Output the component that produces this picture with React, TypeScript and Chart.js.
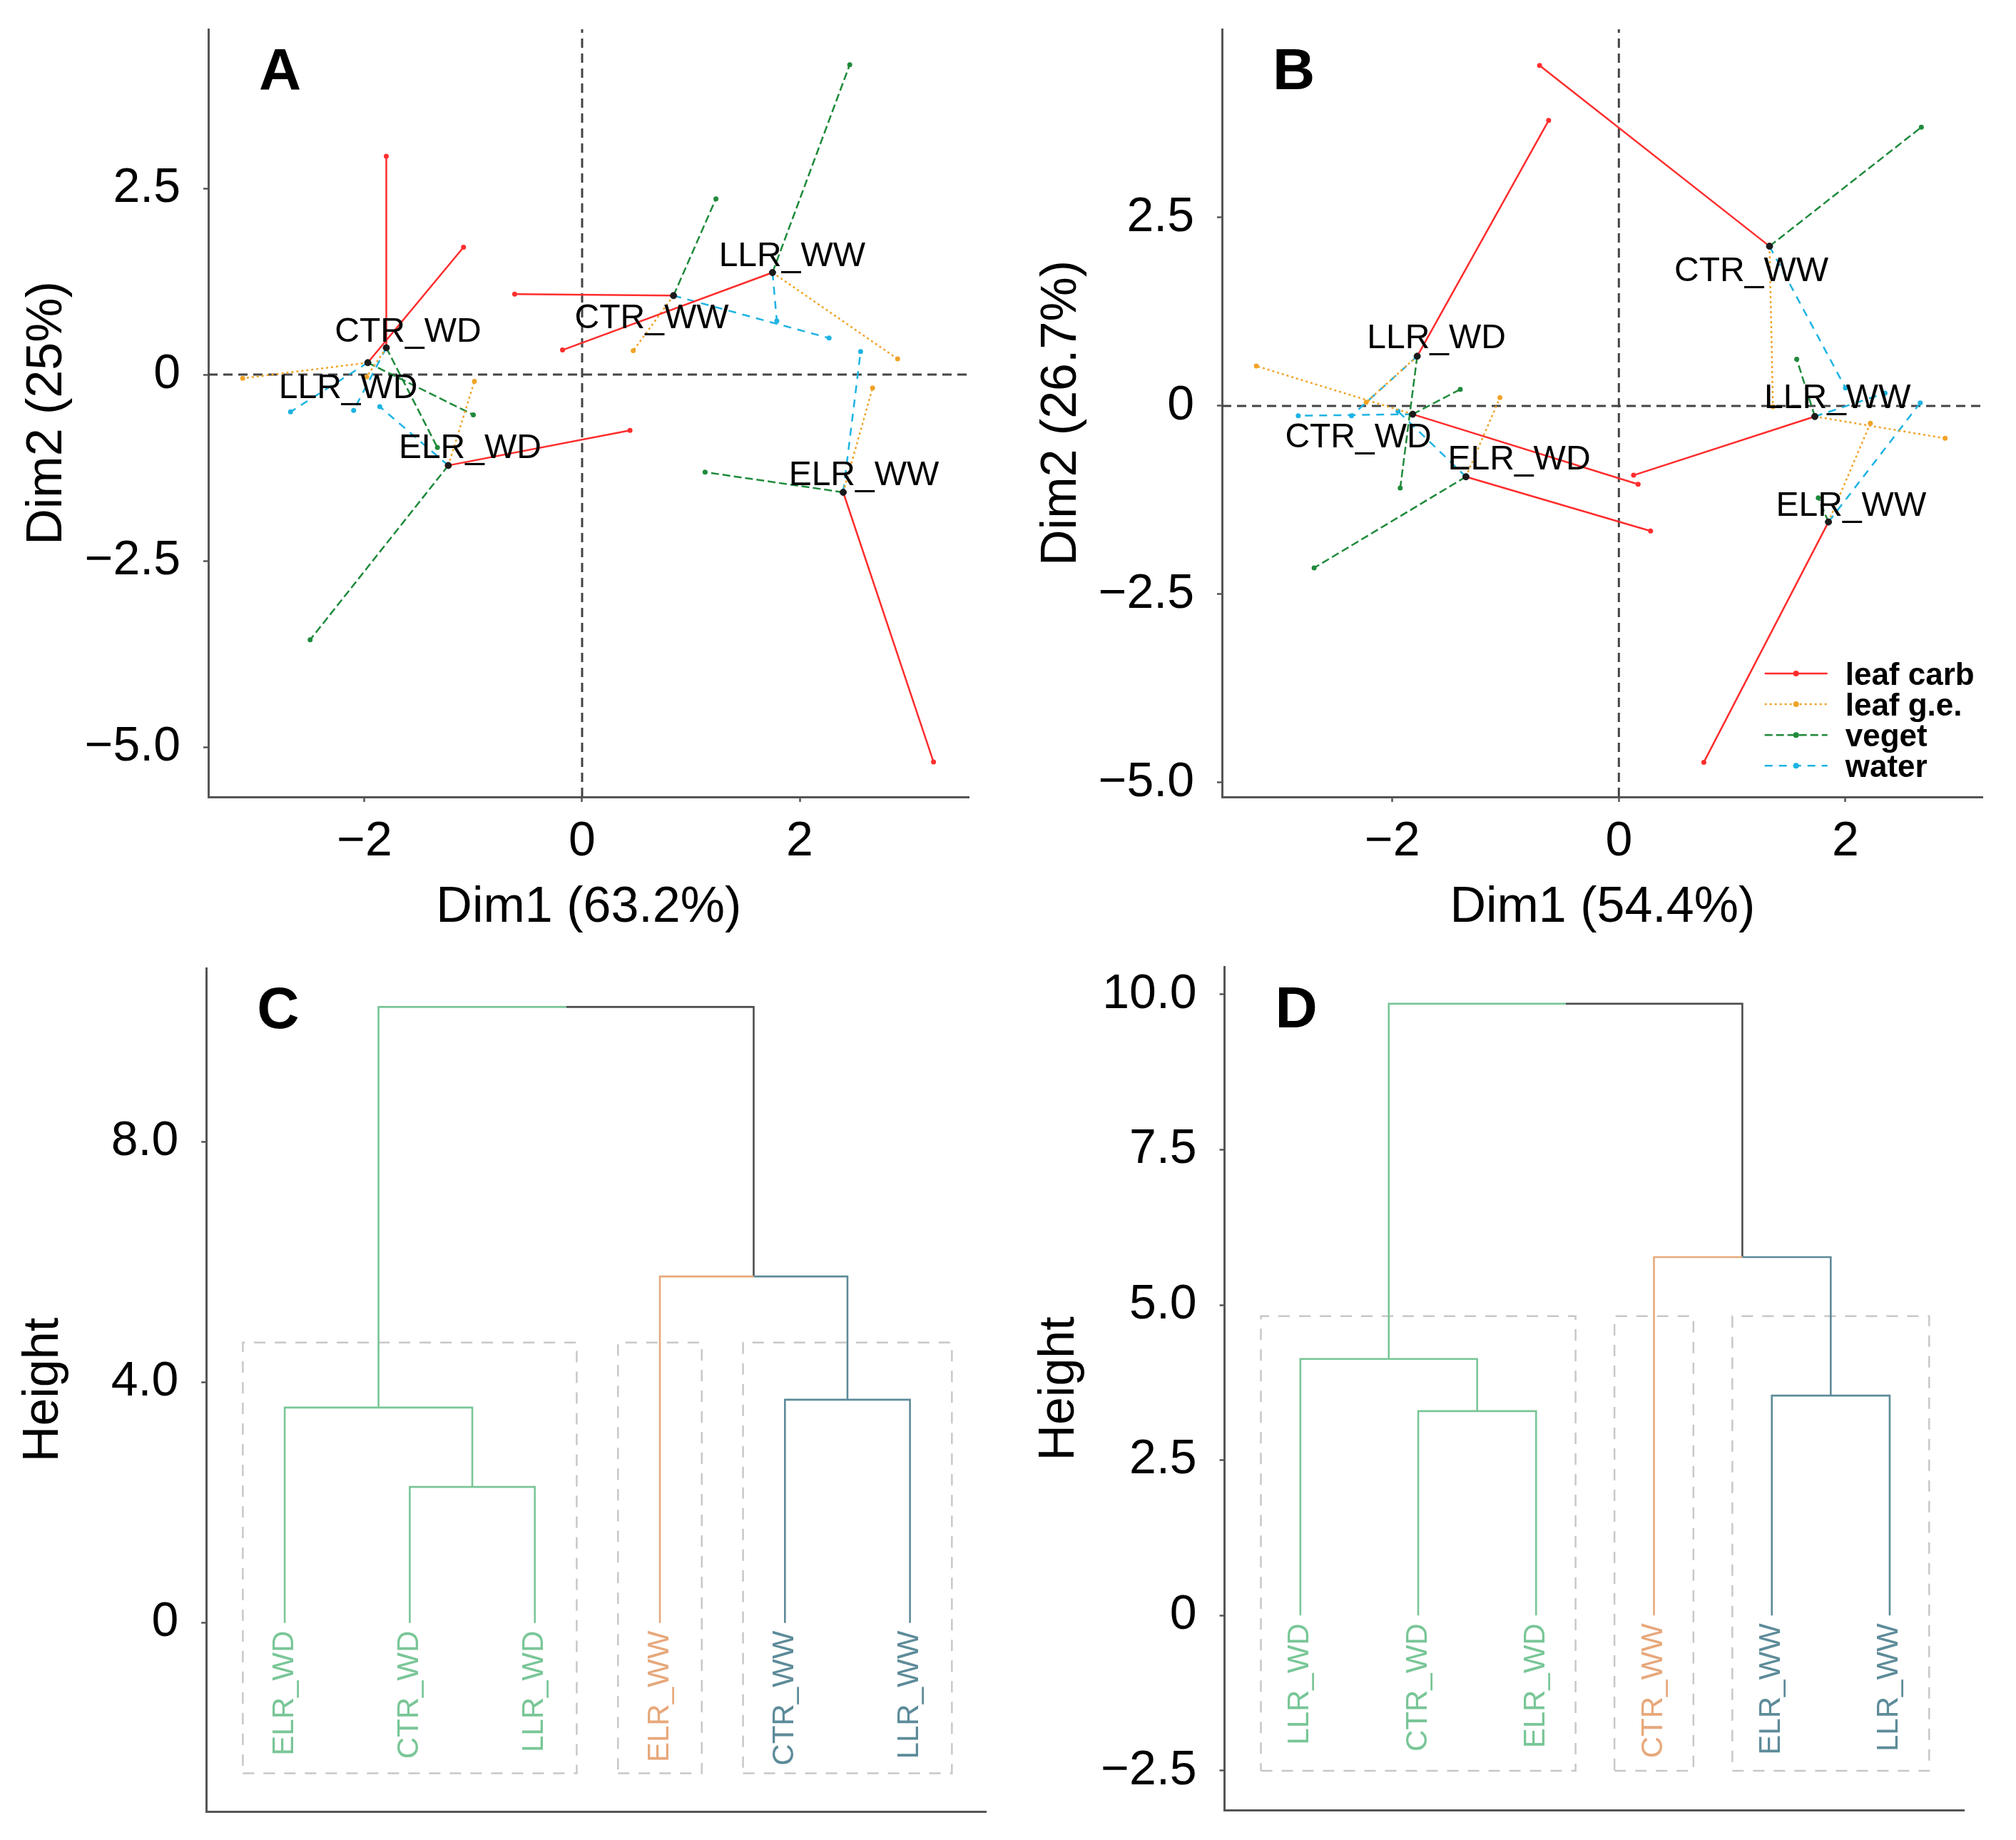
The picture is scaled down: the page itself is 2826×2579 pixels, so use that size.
import React, { useEffect, useRef } from "react";
import { Chart, registerables } from "chart.js";

Chart.register(...registerables);

const FONT = "'Liberation Sans', Arial, Helvetica, sans-serif";

// ---------------- Panels A & B : MFA individuals with partial points ----------------
const groupLabels = ["CTR_WD", "LLR_WD", "ELR_WD", "CTR_WW", "LLR_WW", "ELR_WW"];
const partialGroups = ["leaf carb", "leaf g.e.", "veget", "water"];

// Panel A
const centerAX = [-1.80, -1.97, -1.23, 0.84, 1.75, 2.40];
const centerAY = [0.36, 0.16, -1.22, 1.06, 1.37, -1.58];
const carbAX = [-1.80, -1.09, 0.44, -0.62, -0.18, 3.23];
const carbAY = [2.93, 1.71, -0.75, 1.08, 0.33, -5.20];
const geAX = [-1.98, -3.12, -0.99, 0.47, 2.90, 2.67];
const geAY = [-0.03, -0.05, -0.09, 0.32, 0.21, -0.18];
const vegAX = [-1.33, -1.00, -2.50, 1.23, 2.46, 1.13];
const vegAY = [-0.98, -0.54, -3.56, 2.36, 4.16, -1.31];
const watAX = [-2.10, -2.68, -1.86, 2.27, 1.79, 2.56];
const watAY = [-0.48, -0.50, -0.43, 0.49, 0.72, 0.31];
const labelAX = [-1.60, -2.15, -1.03, 0.64, 1.93, 2.59];
const labelAY = [0.60, -0.15, -0.96, 0.79, 1.62, -1.32];

// Panel B
const centerBX = [-1.82, -1.78, -1.35, 1.33, 1.73, 1.85];
const centerBY = [-0.11, 0.66, -0.94, 2.12, -0.14, -1.54];
const carbBX = [0.17, -0.62, 0.28, -0.70, 0.13, 0.75];
const carbBY = [-1.04, 3.79, -1.66, 4.52, -0.92, -4.73];
const geBX = [-3.20, -2.23, -1.05, 1.36, 2.88, 2.22];
const geBY = [0.53, 0.05, 0.11, -0.01, -0.43, -0.23];
const vegBX = [-1.40, -1.93, -2.69, 2.67, 1.57, 1.76];
const vegBY = [0.22, -1.09, -2.15, 3.70, 0.62, -1.22];
const watBX = [-2.83, -2.36, -1.95, 2.00, 2.35, 2.66];
const watBY = [-0.13, -0.13, -0.07, 0.24, 0.17, 0.04];
const labelBX = [-2.30, -1.61, -0.88, 1.17, 1.93, 2.05];
const labelBY = [-0.39, 0.93, -0.68, 1.82, 0.13, -1.30];

const biplotXTicks = [-2, 0, 2];
const biplotYTicks = [-5, -2.5, 0, 2.5];

// ---------------- Panels C & D : dendrograms ----------------
const dendCLabels = ["ELR_WD", "CTR_WD", "LLR_WD", "ELR_WW", "CTR_WW", "LLR_WW"];
const dendCClusters = [0, 0, 0, 1, 2, 2];
const dendCMerge = [[-2, -3], [-1, 1], [-5, -6], [-4, 3], [2, 4]];
const dendCHeights = [2.26, 3.58, 3.71, 5.76, 10.24];
const dendCRectTop = 4.66;
const dendCYTicks = [0, 4, 8];

const dendDLabels = ["LLR_WD", "CTR_WD", "ELR_WD", "CTR_WW", "ELR_WW", "LLR_WW"];
const dendDClusters = [0, 0, 0, 1, 2, 2];
const dendDMerge = [[-2, -3], [-1, 1], [-5, -6], [-4, 3], [2, 4]];
const dendDHeights = [3.29, 4.13, 3.54, 5.77, 9.85];
const dendDRectTop = 4.82;
const dendDYTicks = [-2.5, 0, 2.5, 5, 7.5, 10];

const dendRectBottom = -2.5;

// ---------------- styles ----------------
const partialColors = ["#FF2D2D", "#F0A429", "#1F8A3B", "#1DB3E3"];
const partialDash: number[][] = [[], [3, 4], [11, 5], [11, 9]];
const clusterColors = ["#79C697", "#E7A87B", "#5D8B99"];
const mixedColor = "#4D4D4D";
const AXIS_COLOR = "#555555";

type Layout = {
  left: number; top: number; width: number; height: number;
  padTop: number; padRight: number; yWidth: number; xHeight: number;
};

function fmt(v: number, dec: number) {
  if (Math.abs(v) < 1e-9) return "0";
  const s = Math.abs(v).toFixed(dec);
  return v < 0 ? "\u2212" + s : s;
}

function zeroPad(s: any) {
  s.paddingTop = 0;
  s.paddingBottom = 0;
  s.paddingLeft = 0;
  s.paddingRight = 0;
}

function xAxis(L: Layout, min: number, max: number, ticks: number[] | null, title: string | null, titlePad: number) {
  const show = !!ticks;
  return {
    type: "linear",
    position: "bottom",
    min, max,
    afterFit: (s: any) => { s.height = L.xHeight; zeroPad(s); },
    afterBuildTicks: (s: any) => { s.ticks = (ticks || []).map((v) => ({ value: v })); },
    ticks: {
      display: show,
      callback: (v: any) => fmt(Number(v), 0),
      font: { family: FONT, size: 68 },
      color: "#000",
      padding: 15,
      maxRotation: 0, minRotation: 0, autoSkip: false,
    },
    grid: { display: show, drawOnChartArea: false, drawTicks: true, tickLength: 7, tickColor: AXIS_COLOR, tickWidth: 2.5 },
    border: { display: true, color: AXIS_COLOR, width: 3 },
    title: {
      display: !!title, text: title || "",
      font: { family: FONT, size: 70 }, color: "#000",
      padding: { top: 0, bottom: titlePad },
    },
  };
}

function yAxis(L: Layout, min: number, max: number, ticks: number[], title: string, titlePad: number) {
  return {
    type: "linear",
    position: "left",
    min, max,
    afterFit: (s: any) => { s.width = L.yWidth; zeroPad(s); },
    afterBuildTicks: (s: any) => { s.ticks = ticks.map((v) => ({ value: v })); },
    ticks: {
      callback: (v: any) => fmt(Number(v), 1),
      font: { family: FONT, size: 68 },
      color: "#000",
      padding: 32,
      autoSkip: false,
    },
    grid: { display: true, drawOnChartArea: false, drawTicks: true, tickLength: 7, tickColor: AXIS_COLOR, tickWidth: 2.5 },
    border: { display: true, color: AXIS_COLOR, width: 3 },
    title: {
      display: true, text: title,
      font: { family: FONT, size: 70 }, color: "#000",
      padding: { top: titlePad, bottom: 0 },
    },
  };
}

function letterPlugin(letter: string) {
  return {
    id: "panelLetter" + letter,
    afterDraw(chart: any) {
      const { ctx, chartArea } = chart;
      ctx.save();
      ctx.font = `bold 82px ${FONT}`;
      ctx.fillStyle = "#000";
      ctx.textAlign = "left";
      ctx.textBaseline = "alphabetic";
      ctx.fillText(letter, chartArea.left + 71, chartArea.top + 84);
      ctx.restore();
    },
  };
}

type BiplotData = {
  cx: number[]; cy: number[];
  parts: { x: number[]; y: number[] }[];
  lx: number[]; ly: number[];
  xMin: number; xMax: number; yMin: number; yMax: number;
  xTitle: string; yTitle: string; yTitlePad: number;
  letter: string; legend: boolean;
};

function biplotConfig(L: Layout, d: BiplotData) {
  const datasets: any[] = [];
  datasets.push({
    label: "_h0", data: [{ x: d.xMin, y: 0 }, { x: d.xMax, y: 0 }],
    borderColor: "#444", borderWidth: 3, borderDash: [13, 8], pointRadius: 0, order: 20,
  });
  datasets.push({
    label: "_v0", data: [{ x: 0, y: d.yMin }, { x: 0, y: d.yMax }],
    borderColor: "#444", borderWidth: 3, borderDash: [13, 8], pointRadius: 0, order: 20,
  });
  d.parts.forEach((p, k) => {
    const data: any[] = [];
    for (let i = 0; i < d.cx.length; i++) {
      data.push({ x: d.cx[i], y: d.cy[i] }, { x: p.x[i], y: p.y[i] }, { x: p.x[i], y: null });
    }
    const c = partialColors[k];
    datasets.push({
      label: partialGroups[k], data,
      borderColor: c, backgroundColor: c, borderWidth: 2.5, borderDash: partialDash[k],
      pointRadius: (ctx: any) => (ctx.dataIndex % 3 === 1 ? 3.5 : 0),
      pointBackgroundColor: c, pointBorderColor: c, pointBorderWidth: 0,
      spanGaps: false, order: 1 + k,
    });
  });
  datasets.push({
    label: "_centers",
    data: d.cx.map((x, i) => ({ x, y: d.cy[i] })),
    showLine: false, pointRadius: 4.5,
    pointBackgroundColor: "#1a1a1a", pointBorderColor: "#1a1a1a", order: 0,
  });

  const labelsPlugin = {
    id: "groupLabels",
    afterDatasetsDraw(chart: any) {
      const { ctx, scales } = chart;
      ctx.save();
      ctx.font = `48px ${FONT}`;
      ctx.fillStyle = "#000";
      ctx.textAlign = "center";
      ctx.textBaseline = "alphabetic";
      groupLabels.forEach((t, i) => {
        const px = scales.x.getPixelForValue(d.lx[i]);
        const py = scales.y.getPixelForValue(d.ly[i]);
        ctx.fillText(t, px, py + 17);
      });
      ctx.restore();
    },
  };

  const legendPlugin = {
    id: "partialLegend",
    afterDraw(chart: any) {
      if (!d.legend) return;
      const { ctx, chartArea } = chart;
      partialGroups.forEach((name, k) => {
        const ds = chart.data.datasets.find((s: any) => s.label === name);
        const y = chartArea.bottom - 173 + k * 43.1;
        const x0 = chartArea.right - 306;
        const x1 = chartArea.right - 218;
        ctx.save();
        ctx.strokeStyle = ds.borderColor;
        ctx.lineWidth = 2.5;
        ctx.setLineDash(ds.borderDash);
        ctx.beginPath();
        ctx.moveTo(x0, y);
        ctx.lineTo(x1, y);
        ctx.stroke();
        ctx.setLineDash([]);
        ctx.fillStyle = ds.borderColor;
        ctx.beginPath();
        ctx.arc((x0 + x1) / 2, y, 4, 0, Math.PI * 2);
        ctx.fill();
        ctx.font = `bold 44px ${FONT}`;
        ctx.fillStyle = "#000";
        ctx.textAlign = "left";
        ctx.textBaseline = "alphabetic";
        ctx.fillText(name, chartArea.right - 193, y + 16);
        ctx.restore();
      });
    },
  };

  return {
    type: "line",
    data: { datasets },
    options: {
      responsive: false,
      animation: false,
      events: [],
      layout: { padding: { top: L.padTop, right: L.padRight, left: 0, bottom: 0 } },
      plugins: { legend: { display: false }, tooltip: { enabled: false } },
      elements: { line: { tension: 0 } },
      scales: {
        x: xAxis(L, d.xMin, d.xMax, biplotXTicks, d.xTitle, 25),
        y: yAxis(L, d.yMin, d.yMax, biplotYTicks, d.yTitle, d.yTitlePad),
      },
    },
    plugins: [labelsPlugin, legendPlugin, letterPlugin(d.letter)],
  };
}

type DendData = {
  labels: string[]; clusters: number[]; merge: number[][]; heights: number[];
  rectTop: number; yTicks: number[];
  xMin: number; xMax: number; yMin: number; yMax: number;
  yTitlePad: number; letter: string;
};

function dendConfig(L: Layout, d: DendData) {
  const nodeX: number[] = [];
  const nodeH: number[] = [];
  const nodeC: number[] = [];
  const childInfo = (c: number) =>
    c < 0
      ? { x: -c, h: 0, cl: d.clusters[-c - 1] }
      : { x: nodeX[c - 1], h: nodeH[c - 1], cl: nodeC[c - 1] };
  const byColor: Record<string, any[]> = {};
  const push = (color: string, pts: any[]) => {
    if (!byColor[color]) byColor[color] = [];
    byColor[color].push(...pts, { x: pts[pts.length - 1].x, y: null });
  };
  d.merge.forEach((m, k) => {
    const a = childInfo(m[0]);
    const b = childInfo(m[1]);
    const x = (a.x + b.x) / 2;
    const h = d.heights[k];
    nodeX.push(x);
    nodeH.push(h);
    nodeC.push(a.cl === b.cl ? a.cl : -1);
    [a, b].forEach((c) => {
      const color = c.cl >= 0 ? clusterColors[c.cl] : mixedColor;
      push(color, [{ x: c.x, y: c.h }, { x: c.x, y: h }, { x, y: h }]);
    });
  });

  const datasets: any[] = [];
  // dashed cluster rectangles
  const rectPts: any[] = [];
  const uniq = Array.from(new Set(d.clusters));
  uniq.forEach((cl) => {
    const idx = d.clusters.map((c, i) => (c === cl ? i + 1 : -1)).filter((i) => i > 0);
    const x0 = Math.min(...idx) - 0.335;
    const x1 = Math.max(...idx) + 0.335;
    rectPts.push(
      { x: x0, y: dendRectBottom }, { x: x1, y: dendRectBottom },
      { x: x1, y: d.rectTop }, { x: x0, y: d.rectTop }, { x: x0, y: dendRectBottom },
      { x: x0, y: null },
    );
  });
  datasets.push({
    label: "_rects", data: rectPts, borderColor: "#C8C8C8", borderWidth: 2.5,
    borderDash: [16, 13], pointRadius: 0, spanGaps: false, order: 10,
  });
  Object.keys(byColor).forEach((color) => {
    datasets.push({
      label: "_branch" + color, data: byColor[color], borderColor: color, borderWidth: 2.6,
      pointRadius: 0, spanGaps: false, borderJoinStyle: "miter", order: 1,
    });
  });

  const leafPlugin = {
    id: "leafLabels",
    afterDatasetsDraw(chart: any) {
      const { ctx, scales } = chart;
      d.labels.forEach((t, i) => {
        const px = scales.x.getPixelForValue(i + 1);
        const py = scales.y.getPixelForValue(0) + 11;
        ctx.save();
        ctx.translate(px, py);
        ctx.rotate(-Math.PI / 2);
        ctx.font = `42px ${FONT}`;
        ctx.fillStyle = clusterColors[d.clusters[i]];
        ctx.textAlign = "right";
        ctx.textBaseline = "middle";
        ctx.fillText(t, 0, 0);
        ctx.restore();
      });
    },
  };

  return {
    type: "line",
    data: { datasets },
    options: {
      responsive: false,
      animation: false,
      events: [],
      layout: { padding: { top: L.padTop, right: L.padRight, left: 0, bottom: 0 } },
      plugins: { legend: { display: false }, tooltip: { enabled: false } },
      elements: { line: { tension: 0 } },
      scales: {
        x: xAxis(L, d.xMin, d.xMax, null, null, 0),
        y: yAxis(L, d.yMin, d.yMax, d.yTicks, "Height", d.yTitlePad),
      },
    },
    plugins: [leafPlugin, letterPlugin(d.letter)],
  };
}

const layoutA: Layout = { left: 0, top: 0, width: 1413, height: 1340, padTop: 41, padRight: 54.4, yWidth: 292, xHeight: 223 };
const layoutB: Layout = { left: 1413, top: 0, width: 1413, height: 1340, padTop: 41, padRight: 46.3, yWidth: 300, xHeight: 223 };
const layoutC: Layout = { left: 0, top: 1340, width: 1413, height: 1239, padTop: 17, padRight: 30.1, yWidth: 289.2, xHeight: 40 };
const layoutD: Layout = { left: 1413, top: 1340, width: 1413, height: 1239, padTop: 15.5, padRight: 72.5, yWidth: 303.6, xHeight: 41.6 };

function ChartCanvas({ layout, build }: { layout: Layout; build: () => any }) {
  const ref = useRef<HTMLCanvasElement>(null);
  useEffect(() => {
    const chart = new Chart(ref.current as HTMLCanvasElement, build());
    return () => chart.destroy();
  }, []);
  return (
    <canvas
      ref={ref}
      width={layout.width}
      height={layout.height}
      style={{ position: "absolute", left: layout.left, top: layout.top, width: layout.width, height: layout.height }}
    />
  );
}

export default function App() {
  useEffect(() => {
    document.body.style.margin = "0";
    document.body.style.background = "#fff";
  }, []);

  const buildA = () =>
    biplotConfig(layoutA, {
      cx: centerAX, cy: centerAY,
      parts: [{ x: carbAX, y: carbAY }, { x: geAX, y: geAY }, { x: vegAX, y: vegAY }, { x: watAX, y: watAY }],
      lx: labelAX, ly: labelAY,
      xMin: -3.436, xMax: 3.558, yMin: -5.67, yMax: 4.636,
      xTitle: "Dim1 (63.2%)", yTitle: "Dim2 (25%)", yTitlePad: 25,
      letter: "A", legend: false,
    });
  const buildB = () =>
    biplotConfig(layoutB, {
      cx: centerBX, cy: centerBY,
      parts: [{ x: carbBX, y: carbBY }, { x: geBX, y: geBY }, { x: vegBX, y: vegBY }, { x: watBX, y: watBY }],
      lx: labelBX, ly: labelBY,
      xMin: -3.503, xMax: 3.214, yMin: -5.19, yMax: 5.0,
      xTitle: "Dim1 (54.4%)", yTitle: "Dim2 (26.7%)", yTitlePad: 34,
      letter: "B", legend: true,
    });
  const buildC = () =>
    dendConfig(layoutC, {
      labels: dendCLabels, clusters: dendCClusters, merge: dendCMerge, heights: dendCHeights,
      rectTop: dendCRectTop, yTicks: dendCYTicks,
      xMin: 0.373, xMax: 6.612, yMin: -3.135, yMax: 10.885,
      yTitlePad: 19.5, letter: "C",
    });
  const buildD = () =>
    dendConfig(layoutD, {
      labels: dendDLabels, clusters: dendDClusters, merge: dendDMerge, heights: dendDHeights,
      rectTop: dendDRectTop, yTicks: dendDYTicks,
      xMin: 0.357, xMax: 6.633, yMin: -3.137, yMax: 10.44,
      yTitlePad: 31, letter: "D",
    });

  return (
    <div style={{ position: "relative", width: 2826, height: 2579, background: "#fff" }}>
      <ChartCanvas layout={layoutA} build={buildA} />
      <ChartCanvas layout={layoutB} build={buildB} />
      <ChartCanvas layout={layoutC} build={buildC} />
      <ChartCanvas layout={layoutD} build={buildD} />
    </div>
  );
}
